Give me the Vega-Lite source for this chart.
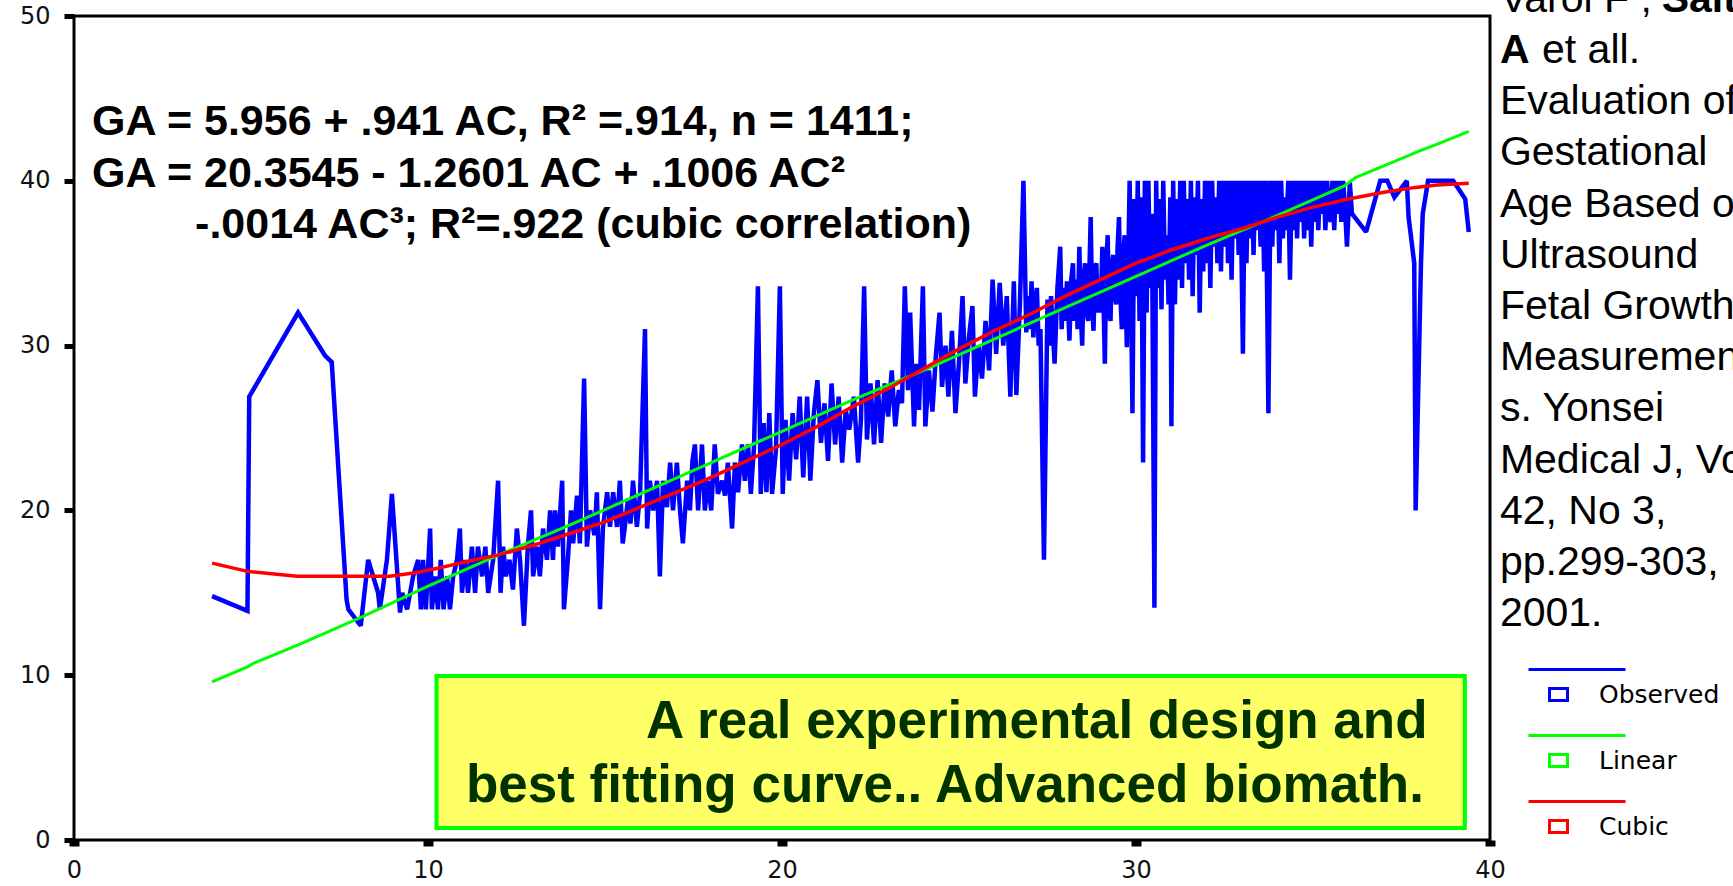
{
  "$schema": "https://vega.github.io/schema/vega-lite/v6.json",
  "autosize": {"type": "none"},
  "width": 1416,
  "height": 824,
  "padding": {"left": 74, "top": 16, "right": 243, "bottom": 46},
  "background": "white",
  "config": {
    "view": {"stroke": "black", "strokeWidth": 3},
    "style": {"guide-label": {"fontSize": 24, "font": "DejaVu Sans", "fill": "#111111"}},
    "axis": {"grid": false, "domain": false, "title": null, "tickColor": "black", "labelFont": "DejaVu Sans", "labelFontSize": 24, "labelColor": "#111111", "labelFlush": false, "labelOverlap": false}
  },
  "datasets": {
    "obs": [
      {"x":3.9,"y":14.8},{"x":4.9,"y":13.9},{"x":4.95,"y":26.9},{"x":6.33,"y":32.0},{"x":7.09,"y":29.4},{"x":7.28,"y":29.0},{"x":7.7,"y":14.6},{"x":7.75,"y":14.0},{"x":8.1,"y":13.0},
      {"x":8.31,"y":17.0},{"x":8.59,"y":15.0},{"x":8.64,"y":14.0},{"x":8.84,"y":17.0},{"x":8.98,"y":21.0},{"x":9.21,"y":13.8},{"x":9.27,"y":15.0},{"x":9.41,"y":14.0},{"x":9.58,"y":16.0},{"x":9.72,"y":17.0},{"x":9.8,"y":14.0},{"x":9.86,"y":17.0},{"x":9.94,"y":14.0},{"x":10.06,"y":18.9},{"x":10.11,"y":14.0},{"x":10.2,"y":16.0},{"x":10.28,"y":14.0},{"x":10.36,"y":17.0},{"x":10.44,"y":14.0},{"x":10.54,"y":16.0},{"x":10.62,"y":14.0},{"x":10.71,"y":16.0},{"x":10.82,"y":17.0},{"x":10.9,"y":18.9},{"x":10.96,"y":15.0},{"x":11.05,"y":17.0},{"x":11.13,"y":15.0},{"x":11.24,"y":17.8},{"x":11.33,"y":15.0},{"x":11.41,"y":17.8},{"x":11.53,"y":16.0},{"x":11.62,"y":17.8},{"x":11.7,"y":15.0},{"x":11.84,"y":17.0},{"x":11.98,"y":21.8},{"x":12.05,"y":15.0},{"x":12.12,"y":17.8},{"x":12.2,"y":16.0},{"x":12.3,"y":17.0},{"x":12.4,"y":15.2},{"x":12.51,"y":18.9},{"x":12.6,"y":17.0},{"x":12.71,"y":13.0},{"x":12.82,"y":17.8},{"x":12.91,"y":20.0},{"x":12.97,"y":16.0},{"x":13.08,"y":17.8},{"x":13.16,"y":16.0},{"x":13.25,"y":18.9},{"x":13.36,"y":17.0},{"x":13.45,"y":20.0},{"x":13.53,"y":17.0},{"x":13.59,"y":20.0},{"x":13.67,"y":17.8},{"x":13.79,"y":21.8},{"x":13.84,"y":14.0},{"x":13.95,"y":17.0},{"x":14.04,"y":20.0},{"x":14.1,"y":18.0},{"x":14.21,"y":20.9},{"x":14.29,"y":18.0},{"x":14.41,"y":28.0},{"x":14.49,"y":17.8},{"x":14.58,"y":20.0},{"x":14.7,"y":18.5},{"x":14.77,"y":21.1},{"x":14.86,"y":14.0},{"x":14.94,"y":18.9},{"x":15.06,"y":21.1},{"x":15.14,"y":19.0},{"x":15.23,"y":21.1},{"x":15.34,"y":19.0},{"x":15.42,"y":21.8},{"x":15.5,"y":18.0},{"x":15.56,"y":19.0},{"x":15.65,"y":20.7},{"x":15.72,"y":19.2},{"x":15.79,"y":21.8},{"x":15.9,"y":19.0},{"x":15.99,"y":21.0},{"x":16.13,"y":31.0},{"x":16.19,"y":18.9},{"x":16.27,"y":21.8},{"x":16.36,"y":20.0},{"x":16.47,"y":21.8},{"x":16.55,"y":16.0},{"x":16.64,"y":21.8},{"x":16.75,"y":20.2},{"x":16.84,"y":22.9},{"x":16.92,"y":20.0},{"x":17.03,"y":22.9},{"x":17.12,"y":20.0},{"x":17.2,"y":18.0},{"x":17.32,"y":21.8},{"x":17.4,"y":20.0},{"x":17.47,"y":23.0},{"x":17.54,"y":24.0},{"x":17.63,"y":20.0},{"x":17.74,"y":24.0},{"x":17.82,"y":20.0},{"x":17.91,"y":21.8},{"x":18.0,"y":20.0},{"x":18.1,"y":24.0},{"x":18.19,"y":21.0},{"x":18.31,"y":21.8},{"x":18.39,"y":20.9},{"x":18.47,"y":22.9},{"x":18.59,"y":18.9},{"x":18.67,"y":22.9},{"x":18.76,"y":21.1},{"x":18.87,"y":24.0},{"x":18.95,"y":21.8},{"x":19.04,"y":24.0},
      {"x":19.12,"y":21.0},{"x":19.21,"y":23.9},{"x":19.32,"y":33.6},{"x":19.4,"y":21.0},{"x":19.48,"y":25.3},{"x":19.56,"y":21.1},{"x":19.64,"y":25.9},{"x":19.72,"y":21.0},{"x":19.83,"y":23.7},{"x":19.94,"y":33.6},{"x":20.02,"y":21.0},{"x":20.1,"y":25.5},{"x":20.2,"y":21.8},{"x":20.3,"y":25.9},{"x":20.4,"y":23.1},{"x":20.5,"y":26.9},{"x":20.6,"y":22.0},{"x":20.71,"y":26.9},{"x":20.8,"y":21.8},{"x":20.9,"y":25.9},{"x":21.0,"y":27.9},{"x":21.1,"y":24.1},{"x":21.2,"y":26.5},{"x":21.3,"y":23.0},{"x":21.4,"y":27.7},{"x":21.5,"y":24.0},{"x":21.6,"y":26.9},{"x":21.7,"y":22.9},{"x":21.8,"y":26.1},{"x":21.9,"y":24.9},{"x":22.03,"y":26.9},{"x":22.15,"y":22.9},{"x":22.23,"y":25.5},{"x":22.32,"y":33.6},{"x":22.4,"y":24.3},{"x":22.5,"y":27.7},{"x":22.6,"y":24.0},{"x":22.7,"y":27.9},{"x":22.8,"y":24.1},{"x":22.9,"y":27.7},{"x":23.0,"y":25.7},{"x":23.1,"y":28.5},{"x":23.2,"y":25.1},{"x":23.3,"y":27.3},{"x":23.39,"y":26.5},{"x":23.47,"y":33.6},{"x":23.56,"y":27.3},{"x":23.62,"y":32.0},{"x":23.73,"y":25.1},{"x":23.8,"y":28.9},{"x":23.87,"y":26.1},{"x":23.98,"y":33.6},{"x":24.05,"y":25.1},{"x":24.15,"y":28.5},
      {"x":24.25,"y":26.0},{"x":24.35,"y":29.5},{"x":24.45,"y":32.0},{"x":24.52,"y":27.5},{"x":24.62,"y":30.0},{"x":24.7,"y":26.9},{"x":24.8,"y":30.9},{"x":24.9,"y":25.9},{"x":25.0,"y":29.0},{"x":25.1,"y":33.0},{"x":25.18,"y":27.7},{"x":25.28,"y":30.5},{"x":25.38,"y":32.4},{"x":25.45,"y":26.9},{"x":25.55,"y":30.0},{"x":25.65,"y":28.0},{"x":25.75,"y":31.5},{"x":25.85,"y":28.5},{"x":25.95,"y":34.0},{"x":26.05,"y":29.5},{"x":26.15,"y":33.8},{"x":26.25,"y":30.0},{"x":26.35,"y":33.0},{"x":26.45,"y":26.9},{"x":26.55,"y":33.9},{"x":26.62,"y":27.0},{"x":26.72,"y":32.5},{"x":26.82,"y":40.0},{"x":26.9,"y":30.8},{"x":26.95,"y":33.0},{"x":27.0,"y":31.0},{"x":27.05,"y":33.9},{"x":27.1,"y":30.5},{"x":27.15,"y":32.5},{"x":27.2,"y":33.5},{"x":27.25,"y":30.0},{"x":27.3,"y":31.0},{"x":27.4,"y":17.0},{"x":27.5,"y":32.8},{"x":27.55,"y":30.0},{"x":27.6,"y":33.0},{"x":27.65,"y":30.9},{"x":27.7,"y":28.9},{"x":27.78,"y":33.5},{"x":27.86,"y":36.0},{"x":27.9,"y":31.0},{"x":27.95,"y":33.5},{"x":28.0,"y":31.5},{"x":28.05,"y":33.9},{"x":28.12,"y":30.3},{"x":28.17,"y":34.0},{"x":28.22,"y":35.0},{"x":28.26,"y":31.5},{"x":28.3,"y":34.0},{"x":28.35,"y":31.0},{"x":28.4,"y":36.0},{"x":28.44,"y":32.0},{"x":28.48,"y":30.0},{"x":28.52,"y":34.0},{"x":28.56,"y":35.0},{"x":28.6,"y":32.0},{"x":28.65,"y":31.5},{"x":28.72,"y":37.8},{"x":28.76,"y":32.5},{"x":28.8,"y":30.9},{"x":28.84,"y":34.5},{"x":28.88,"y":35.0},{"x":28.92,"y":32.0},{"x":28.96,"y":34.0},{"x":29.0,"y":32.0},{"x":29.05,"y":36.0},{"x":29.12,"y":28.9},{"x":29.16,"y":35.0},{"x":29.2,"y":36.7},{"x":29.24,"y":32.0},{"x":29.28,"y":31.5},{"x":29.32,"y":35.0},{"x":29.36,"y":35.5},{"x":29.4,"y":33.0},{"x":29.44,"y":32.5},{"x":29.48,"y":36.0},{"x":29.52,"y":37.8},{"x":29.56,"y":33.0},{"x":29.6,"y":31.0},{"x":29.64,"y":35.5},{"x":29.68,"y":36.7},{"x":29.74,"y":29.9},{"x":29.82,"y":40.0},{"x":29.9,"y":25.9},
      {"x":29.95,"y":38.9},{"x":30.0,"y":33.0},{"x":30.05,"y":40},{"x":30.1,"y":31.5},{"x":30.15,"y":39},{"x":30.2,"y":22.9},{"x":30.25,"y":40},{"x":30.3,"y":32.0},{"x":30.35,"y":40},{"x":30.4,"y":33.5},{"x":30.45,"y":38.0},{"x":30.52,"y":14.1},{"x":30.57,"y":40},{"x":30.62,"y":33.5},{"x":30.67,"y":38.9},{"x":30.72,"y":32.2},{"x":30.77,"y":40},{"x":30.82,"y":34.0},{"x":30.87,"y":36.7},{"x":30.92,"y":32.5},{"x":30.97,"y":39},{"x":31.0,"y":25.1},{"x":31.05,"y":40},{"x":31.1,"y":32.5},{"x":31.15,"y":38.9},{"x":31.2,"y":34.0},{"x":31.25,"y":40},{"x":31.3,"y":33.5},{"x":31.35,"y":40},{"x":31.4,"y":35.0},{"x":31.45,"y":38.9},{"x":31.5,"y":34.0},{"x":31.55,"y":40},{"x":31.6,"y":33.0},{"x":31.65,"y":39},{"x":31.7,"y":35.5},{"x":31.75,"y":40},{"x":31.8,"y":32.0},{"x":31.85,"y":38.9},{"x":31.9,"y":34.5},{"x":31.95,"y":40},{"x":32.0,"y":35.0},{"x":32.05,"y":40},{"x":32.1,"y":33.5},{"x":32.15,"y":40},{"x":32.2,"y":36.0},{"x":32.25,"y":39},{"x":32.3,"y":35.0},{"x":32.35,"y":40},{"x":32.4,"y":34.5},{"x":32.45,"y":40},{"x":32.5,"y":36.0},{"x":32.55,"y":40},{"x":32.6,"y":35.0},{"x":32.65,"y":40},{"x":32.7,"y":34.0},{"x":32.75,"y":40},{"x":32.8,"y":36.5},{"x":32.85,"y":40},{"x":32.9,"y":35.5},{"x":32.95,"y":40},{"x":33.02,"y":29.5},{"x":33.07,"y":40},{"x":33.12,"y":35.0},{"x":33.17,"y":40},{"x":33.22,"y":36.5},{"x":33.27,"y":40},{"x":33.32,"y":35.5},{"x":33.37,"y":40},{"x":33.42,"y":37.0},{"x":33.47,"y":40},{"x":33.52,"y":36.0},{"x":33.57,"y":40},{"x":33.62,"y":34.5},{"x":33.67,"y":40},{"x":33.74,"y":25.9},{"x":33.8,"y":40},{"x":33.85,"y":36.0},{"x":33.9,"y":40},{"x":33.95,"y":37.0},{"x":34.0,"y":40},{"x":34.05,"y":35.0},{"x":34.1,"y":40},{"x":34.15,"y":36.5},{"x":34.2,"y":39},{"x":34.25,"y":37.0},{"x":34.3,"y":40},{"x":34.35,"y":34.0},{"x":34.4,"y":40},{"x":34.45,"y":37.0},{"x":34.5,"y":40},{"x":34.55,"y":36.5},{"x":34.6,"y":40},{"x":34.65,"y":37.5},{"x":34.7,"y":40},{"x":34.75,"y":36.5},{"x":34.8,"y":40},{"x":34.85,"y":37.0},{"x":34.9,"y":40},{"x":34.95,"y":36.0},{"x":35.0,"y":40},{"x":35.05,"y":37.5},{"x":35.1,"y":40},{"x":35.15,"y":37.0},{"x":35.2,"y":40},{"x":35.25,"y":38.0},{"x":35.3,"y":40},{"x":35.35,"y":37.0},{"x":35.4,"y":40},{"x":35.45,"y":38.0},{"x":35.5,"y":37.5},{"x":35.55,"y":40},{"x":35.6,"y":37.0},{"x":35.65,"y":40},{"x":35.7,"y":38.0},{"x":35.75,"y":40},{"x":35.8,"y":37.5},{"x":35.85,"y":40},{"x":35.9,"y":38.5},{"x":35.96,"y":36.0},{"x":36.04,"y":39.9},
      {"x":36.1,"y":38.0},{"x":36.5,"y":36.9},{"x":36.9,"y":40.0},{"x":37.1,"y":40.0},{"x":37.3,"y":39.0},{"x":37.65,"y":40.0},{"x":37.7,"y":37.8},{"x":37.86,"y":35.0},{"x":37.9,"y":20.0},{"x":38.05,"y":35.0},{"x":38.1,"y":38.0},{"x":38.25,"y":40.0},{"x":38.96,"y":40.0},{"x":39.3,"y":38.9},{"x":39.4,"y":36.9}
    ],
    "lin": [
      {"x":3.9,"y":9.6},{"x":4.9,"y":10.5},{"x":5.05,"y":10.7},{"x":6.4,"y":11.9},{"x":8.2,"y":13.6},{"x":10,"y":15.4},{"x":12,"y":17.3},{"x":14,"y":19.1},{"x":16,"y":21.0},{"x":18,"y":22.9},{"x":20,"y":24.8},{"x":22,"y":26.7},{"x":24,"y":28.5},{"x":26,"y":30.4},{"x":28,"y":32.3},{"x":30,"y":34.2},{"x":32,"y":36.1},{"x":34,"y":37.9},{"x":35.9,"y":39.7},{"x":36.2,"y":40.2},{"x":37,"y":40.9},{"x":38,"y":41.8},{"x":38.6,"y":42.3},{"x":39.4,"y":43.0}
    ],
    "cub": [
      {"x":3.9,"y":16.8},{"x":4.9,"y":16.3},{"x":6.3,"y":16.0},{"x":8.9,"y":16.0},{"x":9.6,"y":16.2},{"x":10.3,"y":16.5},{"x":11.1,"y":16.9},{"x":12,"y":17.3},{"x":13,"y":17.9},{"x":14,"y":18.6},{"x":15,"y":19.3},{"x":16,"y":20.2},{"x":17,"y":21.1},{"x":18,"y":22.0},{"x":19,"y":23.0},{"x":20,"y":24.0},{"x":21,"y":25.1},{"x":22,"y":26.3},{"x":23,"y":27.4},{"x":24,"y":28.6},{"x":25,"y":29.8},{"x":26,"y":30.9},{"x":27,"y":31.9},{"x":28,"y":33.0},{"x":29,"y":34.0},{"x":30,"y":35.0},{"x":31,"y":35.8},{"x":32,"y":36.5},{"x":33,"y":37.1},{"x":34,"y":37.8},{"x":35,"y":38.4},{"x":36,"y":38.9},{"x":37,"y":39.3},{"x":37.9,"y":39.6},{"x":38.5,"y":39.75},{"x":39.4,"y":39.85}
    ],
    "box": [{"x":10.24,"x2":39.29,"y":9.95,"y2":0.73}],
    "eq": [
      {"x":0.51,"y":42.78,"t":"GA = 5.956 + .941 AC, R² =.914, n = 1411;"},
      {"x":0.51,"y":39.62,"t":"GA = 20.3545 - 1.2601 AC + .1006 AC²"},
      {"x":3.42,"y":36.53,"t":"-.0014 AC³; R²=.922 (cubic correlation)"}
    ],
    "note": [
      {"x":16.16,"y":6.19,"t":"A real experimental design and"},
      {"x":11.07,"y":2.31,"t":"best  fitting curve.. Advanced biomath."}
    ],
    "cite": [
      {"x":40.28,"y":50.26,"t":"Varol F , "},
      {"x":41.47,"y":47.15,"t":"et all."},
      {"x":40.28,"y":44.04,"t":"Evaluation of"},
      {"x":40.28,"y":40.93,"t":"Gestational"},
      {"x":40.28,"y":37.83,"t":"Age Based on"},
      {"x":40.28,"y":34.72,"t":"Ultrasound"},
      {"x":40.28,"y":31.61,"t":"Fetal Growth"},
      {"x":40.28,"y":28.51,"t":"Measurement"},
      {"x":40.28,"y":25.4,"t":"s. Yonsei"},
      {"x":40.28,"y":22.29,"t":"Medical J, Vol"},
      {"x":40.28,"y":19.19,"t":"42, No 3,"},
      {"x":40.28,"y":16.08,"t":"pp.299-303,"},
      {"x":40.28,"y":12.97,"t":"2001."}
    ],
    "citeBold": [
      {"x":44.85,"y":50.26,"t":"Saltık"},
      {"x":40.28,"y":47.15,"t":"A"}
    ]
  },
  "encoding": {
    "x": {"field": "x", "type": "quantitative", "scale": {"domain": [0, 40], "nice": false, "zero": false}, "axis": {"values": [0, 10, 20, 30, 40], "tickSize": 6, "tickWidth": 10, "labelPadding": 12, "labelFontSize": 24, "labelFont": "DejaVu Sans"}},
    "y": {"field": "y", "type": "quantitative", "scale": {"domain": [0, 50], "nice": false, "zero": false}, "axis": {"values": [0, 10, 20, 30, 40, 50], "tickSize": 10, "tickWidth": 5, "labelPadding": 14, "labelFontSize": 24, "labelFont": "DejaVu Sans"}}
  },
  "layer": [
    {
      "data": {"name": "obs"},
      "mark": {"type": "line", "strokeWidth": 4.5, "strokeJoin": "miter", "strokeMiterLimit": 2},
      "encoding": {
        "color": {"datum": "Observed", "type": "nominal",
          "scale": {"domain": ["Observed", "Linear", "Cubic"], "range": ["#0000ff", "#00ff00", "#ff0000"]},
          "legend": {"orient": "none", "legendX": 1472, "legendY": 666, "title": null, "padding": 0,
            "symbolType": "M-3,-2.5L6.7,-2.5M-0.9,-0.6L0.9,-0.6L0.9,0.6L-0.9,0.6Z", "symbolSize": 400, "symbolStrokeWidth": 3, "symbolFillColor": "transparent",
            "labelFont": "DejaVu Sans", "labelFontSize": 25, "labelColor": "black", "labelOffset": 28, "rowPadding": 21}}
      }
    },
    {
      "data": {"name": "lin"},
      "mark": {"type": "line", "strokeWidth": 3},
      "encoding": {"color": {"datum": "Linear", "type": "nominal"}}
    },
    {
      "data": {"name": "cub"},
      "mark": {"type": "line", "strokeWidth": 3.5},
      "encoding": {"color": {"datum": "Cubic", "type": "nominal"}}
    },
    {
      "data": {"name": "box"},
      "mark": {"type": "rect", "fill": "#ffff66", "stroke": "#00ff00", "strokeWidth": 4},
      "encoding": {"x2": {"field": "x2"}, "y2": {"field": "y2"}}
    },
    {
      "data": {"name": "eq"},
      "mark": {"type": "text", "align": "left", "baseline": "alphabetic", "font": "Liberation Sans", "fontWeight": "bold", "fontSize": 43, "color": "black"},
      "encoding": {"text": {"field": "t"}}
    },
    {
      "data": {"name": "note"},
      "mark": {"type": "text", "align": "left", "baseline": "alphabetic", "font": "Liberation Sans", "fontWeight": "bold", "fontSize": 53, "color": "#003300"},
      "encoding": {"text": {"field": "t"}}
    },
    {
      "data": {"name": "cite"},
      "mark": {"type": "text", "align": "left", "baseline": "alphabetic", "font": "Liberation Sans", "fontSize": 41, "color": "black"},
      "encoding": {"text": {"field": "t"}}
    },
    {
      "data": {"name": "citeBold"},
      "mark": {"type": "text", "align": "left", "baseline": "alphabetic", "font": "Liberation Sans", "fontWeight": "bold", "fontSize": 41, "color": "black"},
      "encoding": {"text": {"field": "t"}}
    }
  ]
}
